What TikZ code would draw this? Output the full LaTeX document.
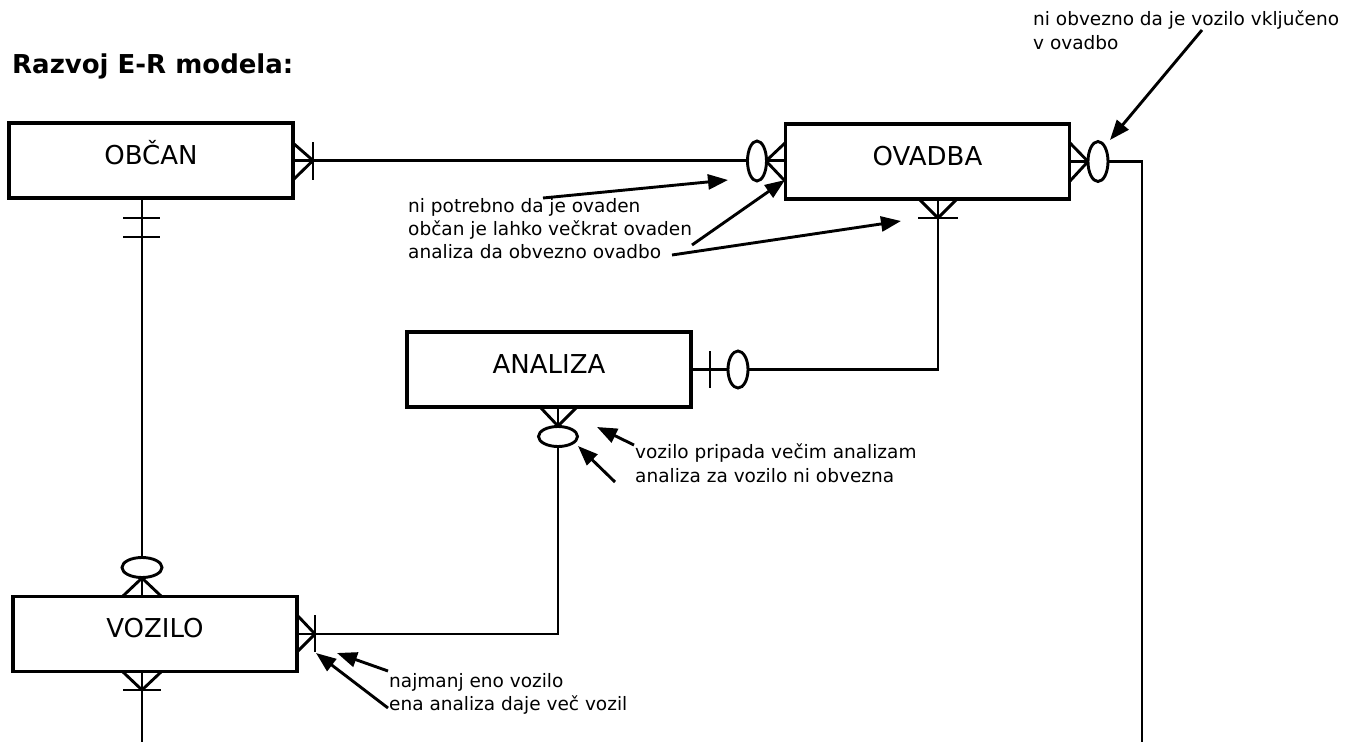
\documentclass[tikz,border=0pt]{standalone}
\usepackage{fontspec}
\setmainfont{DejaVu Sans}
\usetikzlibrary{arrows.meta}
\begin{document}
\begin{tikzpicture}[x=1pt,y=-1pt,
    entity/.style={draw,line width=3.2pt,minimum width=284pt,minimum height=75pt,inner sep=0pt,
      font=\fontsize{26}{31}\selectfont,text height=19pt,text depth=12pt},
    link/.style={line width=2.9pt},
    ring/.style={line width=2.9pt,fill=white},
    note/.style={anchor=base west,inner sep=0pt,font=\fontsize{18.5}{23}\selectfont},
    pointer/.style={line width=2.9pt,-{Triangle[length=20pt,width=15pt]}}]
    \useasboundingbox (0,0) rectangle (1345,742);

    \node[anchor=base west,inner sep=0pt,font=\fontsize{26}{31}\selectfont\bfseries] (naslov) at (12,73){Razvoj E-R modela:};

    \node[entity] (obcan)   at (151,160.5){OBČAN};
    \node[entity] (ovadba)  at (927.5,161.5){OVADBA};
    \node[entity] (analiza) at (549,369.5){ANALIZA};
    \node[entity] (vozilo)  at (155,634){VOZILO};

    \coordinate (rob) at (1142,742);
    \coordinate (dno) at (142,742);

    \draw[link] (obcan.east) -- (obcan.east -| ovadba.west);
    \draw[link] ([xshift=-9pt]obcan.south) -- ([xshift=-13pt]vozilo.north);
    \draw[link] (ovadba.east) -| (rob);
    \draw[link] ([xshift=10.5pt]ovadba.south) |- (analiza.east);
    \draw[link] ([xshift=9pt]analiza.south) |- (vozilo.east);
    \draw[link] ([xshift=-13pt]vozilo.south) -- (dno);

    % OBCAN - OVADBA
    \draw[link] (293,143) -- (313,160.5) -- (293,180);   \draw[link] (313,142) -- (313,180);
    \draw[link] (785,143) -- (766,161) -- (785,181);     \draw[ring] (757,161) ellipse [x radius=9.5pt,y radius=20pt];
    % OVADBA - rob
    \draw[link] (1070,143) -- (1088,161.5) -- (1070,181); \draw[ring] (1098,161.5) ellipse [x radius=10pt,y radius=20pt];
    % OVADBA - ANALIZA
    \draw[link] (920,200) -- (938,218) -- (956,200);     \draw[link] (918,218) -- (958,218);
    \draw[link] (710,351) -- (710,388);                  \draw[ring] (738,369.5) ellipse [x radius=10pt,y radius=18.5pt];
    % ANALIZA - VOZILO
    \draw[link] (540,407) -- (558,426) -- (577,407);     \draw[ring] (558,436.5) ellipse [x radius=19.5pt,y radius=10pt];
    \draw[link] (297,615) -- (315,634) -- (297,652);     \draw[link] (315,615) -- (315,652);
    % OBCAN - VOZILO
    \draw[link] (123,218) -- (160,218);                  \draw[link] (123,237) -- (160,237);
    \draw[link] (123,596) -- (142,578) -- (161,596);     \draw[ring] (142,567.5) ellipse [x radius=20pt,y radius=10pt];
    % VOZILO spodaj
    \draw[link] (123,672) -- (142,690) -- (161,672);     \draw[link] (123,690) -- (161,690);

    \node[note] (t1a) at (408,212){ni potrebno da je ovaden};
    \node[note] (t1b) at (408,235){občan je lahko večkrat ovaden};
    \node[note] (t1c) at (408,258){analiza da obvezno ovadbo};
    \node[note] (t2a) at (1033,25){ni obvezno da je vozilo vključeno};
    \node[note] (t2b) at (1033,49){v ovadbo};
    \node[note] (t3a) at (635,458){vozilo pripada večim analizam};
    \node[note] (t3b) at (635,482){analiza za vozilo ni obvezna};
    \node[note] (t4a) at (389,687){najmanj eno vozilo};
    \node[note] (t4b) at (389,710){ena analiza daje več vozil};

    \draw[pointer] (543,198) -- (728,180);
    \draw[pointer] (692,245) -- (785,180);
    \draw[pointer] (672,255) -- (901,221);
    \draw[pointer] (1202,30) -- (1110,140);
    \draw[pointer] (634,445) -- (597,427);
    \draw[pointer] (615,482) -- (578,446);
    \draw[pointer] (388,671) -- (337,653);
    \draw[pointer] (388,708) -- (316,653);
\end{tikzpicture}
\end{document}
